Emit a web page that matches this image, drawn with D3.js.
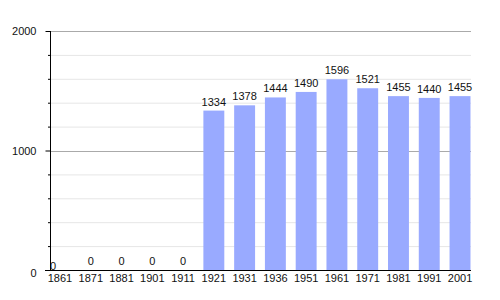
<!DOCTYPE html>
<html>
<head>
<meta charset="utf-8">
<script src="https://cdn.jsdelivr.net/npm/d3@7"></script>
<style>
  body { margin: 0; background: #fff; }
  text { font-family: "Liberation Sans", Arial, sans-serif; font-size: 11px; fill: #111; }
</style>
</head>
<body>
<div id="wrapper"></div>
<script>
const years = ["1861", "1871", "1881", "1901", "1911", "1921", "1931", "1936", "1951", "1961", "1971", "1981", "1991", "2001"]
const population = [0, 0, 0, 0, 0, 1334, 1378, 1444, 1490, 1596, 1521, 1455, 1440, 1455]
const majorTicks = [0, 1000, 2000]
const minorTicks = [200, 400, 600, 800, 1200, 1400, 1600, 1800]

const width = 500, height = 300
const plot = { left: 50, right: 471, top: 31, bottom: 270 }

const svg = d3.select("#wrapper")
    .append("svg")
        .attr("width", width)
        .attr("height", height)

const x = d3.scaleBand()
    .domain(years)
    .range([44.6, 475.4])
    .paddingInner(0.32)
    .paddingOuter(0.16)

const y = d3.scaleLinear()
    .domain([0, 2000])
    .range([plot.bottom, plot.top])

// light grid lines
svg.append("g")
    .selectAll("line")
    .data(minorTicks)
    .join("line")
        .attr("x1", plot.left)
        .attr("x2", plot.right)
        .attr("y1", d => y(d) + 0.5)
        .attr("y2", d => y(d) + 0.5)
        .attr("stroke", "#e6e6e6")

svg.append("g")
    .selectAll("line")
    .data(majorTicks.filter(d => d > 0))
    .join("line")
        .attr("x1", plot.left)
        .attr("x2", plot.right)
        .attr("y1", d => Math.round(y(d)) + 0.5)
        .attr("y2", d => Math.round(y(d)) + 0.5)
        .attr("stroke", "#aaa")

// bars
svg.append("g")
    .selectAll("rect")
    .data(population)
    .join("rect")
        .attr("x", (d, i) => x(years[i]))
        .attr("width", x.bandwidth())
        .attr("y", d => y(d))
        .attr("height", d => y(0) - y(d))
        .attr("fill", "#99aaff")

// value labels
svg.append("g")
    .selectAll("text")
    .data(population)
    .join("text")
        .attr("x", (d, i) => x(years[i]) + x.bandwidth() / 2 + (i === 0 ? -7 : 0))
        .attr("y", (d, i) => y(d) - (i === 0 ? 0 : 5))
        .attr("text-anchor", "middle")
        .text(d => d)

// y axis
const yAxis = d3.axisLeft(y)
    .tickValues(majorTicks)
    .tickSize(5)
    .tickPadding(9)
    .tickFormat(d3.format("d"))

const yg = svg.append("g")
    .attr("transform", `translate(${plot.left + 0.5},0)`)
    .call(yAxis)
yg.select(".domain").remove()
yg.selectAll("line").attr("stroke", "#000")
yg.selectAll("text").style("font-size", "11px").attr("fill", "#111")
yg.selectAll(".tick").filter(d => d === 0).select("text").attr("dy", "0.6em")

svg.append("g")
    .attr("transform", `translate(${plot.left + 0.5},0)`)
    .call(d3.axisLeft(y).tickValues(minorTicks).tickSize(2.5).tickFormat(""))
    .call(g => g.select(".domain").remove())
    .selectAll("line").attr("stroke", "#000")

svg.append("line")
    .attr("x1", plot.left + 0.5)
    .attr("x2", plot.left + 0.5)
    .attr("y1", plot.top)
    .attr("y2", plot.bottom)
    .attr("stroke", "#000")

// x axis
const xg = svg.append("g")
    .attr("transform", `translate(0,${plot.bottom + 0.5})`)
    .call(d3.axisBottom(x).tickSize(0).tickPadding(4))
xg.select(".domain").remove()
xg.selectAll("text").style("font-size", "11px").attr("fill", "#111")

svg.append("line")
    .attr("x1", 45)
    .attr("x2", plot.right)
    .attr("y1", plot.bottom + 0.5)
    .attr("y2", plot.bottom + 0.5)
    .attr("stroke", "#000")
</script>
</body>
</html>
